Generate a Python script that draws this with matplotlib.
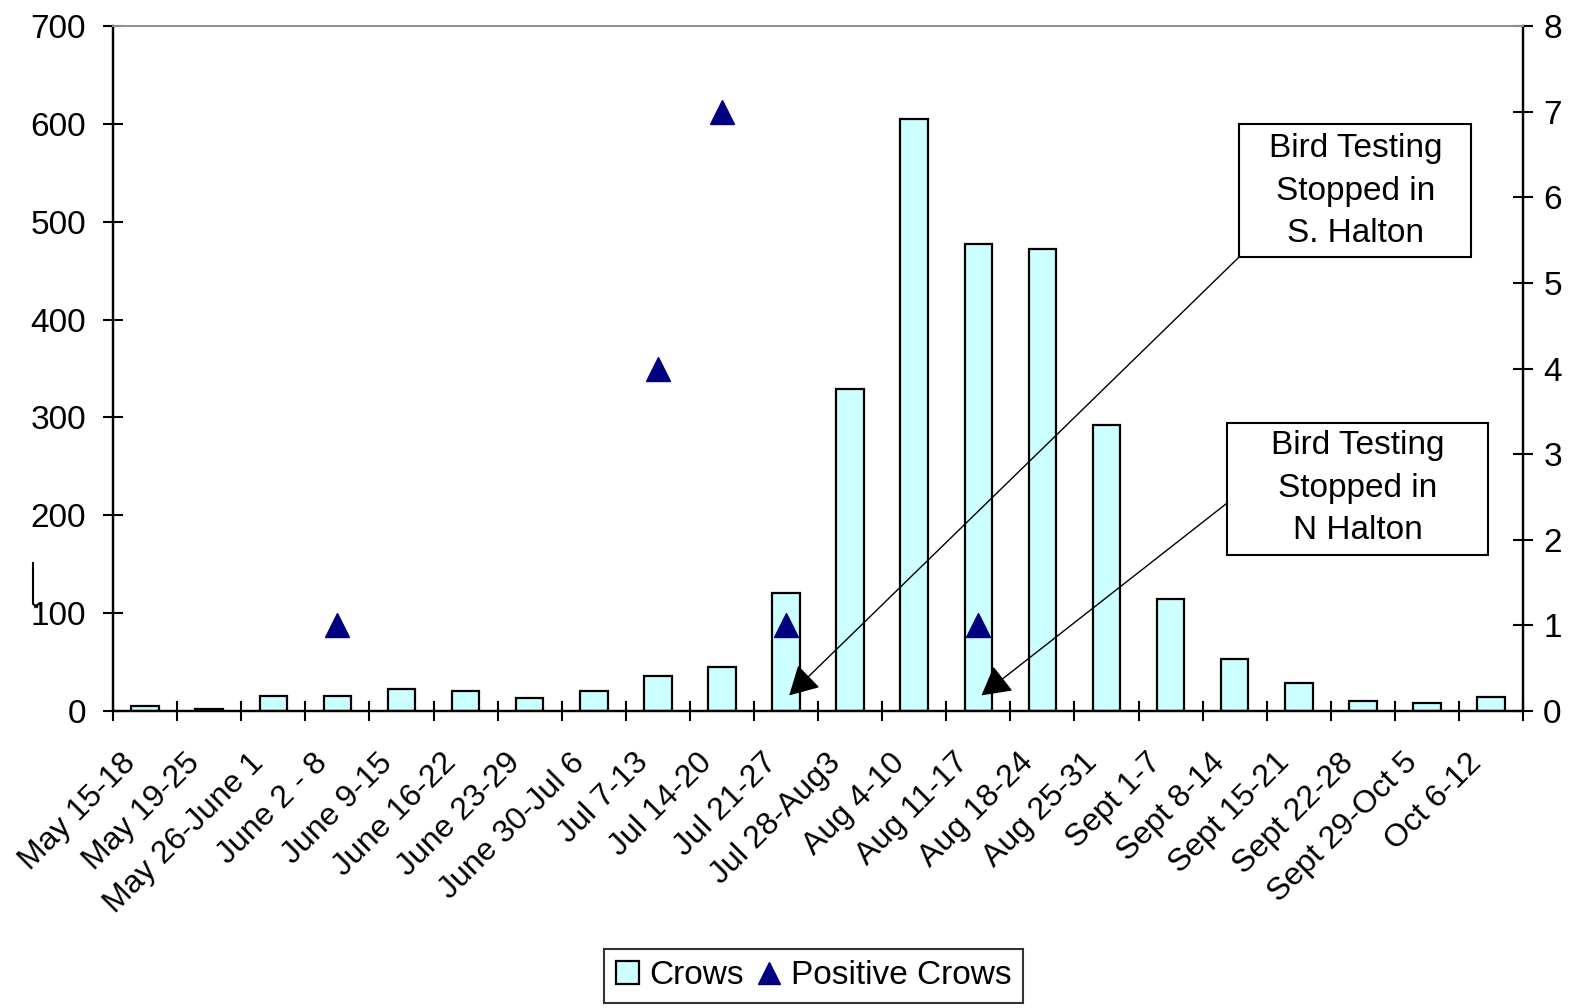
import matplotlib
matplotlib.use("Agg")
from matplotlib import pyplot as plt
from matplotlib import transforms
from matplotlib.patches import Rectangle
from matplotlib.lines import Line2D
import numpy as np

plt.rcParams['font.family'] = ['Liberation Sans', 'DejaVu Sans']

weeks = ["May 15-18", "May 19-25", "May 26-June 1", "June 2 - 8", "June 9-15",
         "June 16-22", "June 23-29", "June 30-Jul 6", "Jul 7-13", "Jul 14-20",
         "Jul 21-27", "Jul 28-Aug3", "Aug 4-10", "Aug 11-17", "Aug 18-24",
         "Aug 25-31", "Sept 1-7", "Sept 8-14", "Sept 15-21", "Sept 22-28",
         "Sept 29-Oct 5", "Oct 6-12"]
crows = [5, 2, 15, 15, 23, 20, 13, 20, 36, 45, 121, 329, 605, 477, 472,
         292, 114, 53, 29, 10, 8, 14]
# positive crows, only the weeks that have a marker
pos_weeks = ["June 2 - 8", "Jul 7-13", "Jul 14-20", "Jul 21-27", "Aug 11-17"]
pos_crows = [1, 4, 7, 1, 1]

x = np.arange(len(weeks))
pos_x = [weeks.index(w) for w in pos_weeks]

fig = plt.figure(figsize=(15.77, 10.08), dpi=100)
ax = fig.add_axes([0.0717, 0.2946, 0.8941, 0.6796])
ax2 = ax.twinx()

bars = ax.bar(x, crows, width=0.43, color="#CCFFFF", edgecolor="black",
              linewidth=1.6, label="Crows", zorder=2)
tri, = ax2.plot(pos_x, pos_crows, linestyle="none", marker="^", markersize=17,
                color="#000080", label="Positive Crows", zorder=3)

ax.set_xlim(-0.5, len(weeks) - 0.5)
ax.set_ylim(0, 700)
ax2.set_ylim(0, 8)
ax.set_yticks(range(0, 701, 100))
ax2.set_yticks(range(0, 9))

ax.set_xticks(x)
ax.set_xticks(np.arange(-0.5, len(weeks), 1.0), minor=True)
ax.tick_params(axis="x", which="major", length=0, pad=34)
ax.tick_params(axis="x", which="minor", direction="inout", length=15, width=1.5)
labs = ax.set_xticklabels(weeks, rotation=45, ha="right", va="center",
                          rotation_mode="anchor", fontsize=23)
off = transforms.ScaledTranslation(-0.14, 0, fig.dpi_scale_trans)
for t in labs:
    t.set_transform(t.get_transform() + off)

ax.tick_params(axis="y", direction="inout", length=15, width=1.5, labelsize=24, pad=12)
ax2.tick_params(axis="y", direction="inout", length=15, width=1.5, labelsize=24, pad=7)

for a in (ax, ax2):
    a.spines["left"].set_linewidth(1.6)
    a.spines["right"].set_linewidth(1.6)
    a.spines["bottom"].set_linewidth(1.6)
    a.spines["top"].set_color("#909090")
    a.spines["top"].set_linewidth(1.4)

# callout boxes
ax.add_patch(Rectangle((0.7986, 0.6628), 0.9631 - 0.7986, 0.8569 - 0.6628,
                       transform=ax.transAxes, facecolor="white", edgecolor="black",
                       linewidth=1.5, zorder=5, clip_on=False))
ax.add_patch(Rectangle((0.7901, 0.2277), 0.9752 - 0.7901, 0.4204 - 0.2277,
                       transform=ax.transAxes, facecolor="white", edgecolor="black",
                       linewidth=1.5, zorder=5, clip_on=False))
ax.text(0.881, 0.759, "Bird Testing\nStopped in\nS. Halton", transform=ax.transAxes,
        ha="center", va="center", fontsize=24, linespacing=1.47, zorder=6)
ax.text(0.8827, 0.3255, "Bird Testing\nStopped in\nN Halton", transform=ax.transAxes,
        ha="center", va="center", fontsize=24, linespacing=1.47, zorder=6)

arrow = dict(arrowstyle="-|>,head_length=0.9,head_width=0.5", color="black",
             linewidth=1.0, shrinkA=0, shrinkB=0, mutation_scale=20)
ax.annotate("", xy=(10.05, 16), xycoords="data", xytext=(0.7986, 0.6628),
            textcoords="axes fraction", arrowprops=arrow, zorder=4)
ax.annotate("", xy=(13.05, 16), xycoords="data", xytext=(0.7901, 0.3036),
            textcoords="axes fraction", arrowprops=arrow, zorder=4)

# stray mark left of the "100" label
fig.add_artist(Line2D([33 / 1577, 33 / 1577, 37 / 1577],
                      [1 - 563 / 1008, 1 - 604 / 1008, 1 - 607 / 1008],
                      color="black", linewidth=1.5))

leg = fig.legend([bars, tri], ["Crows", "Positive Crows"], loc="center",
                 bbox_to_anchor=(0.516, 0.032), ncol=2, fontsize=24, frameon=True,
                 fancybox=False, edgecolor="black", handlelength=0.7, handletextpad=0.3,
                 columnspacing=0.4, borderpad=0.35, markerscale=0.9)
leg.get_frame().set_linewidth(1.5)

fig.savefig("out.png", dpi=100)
